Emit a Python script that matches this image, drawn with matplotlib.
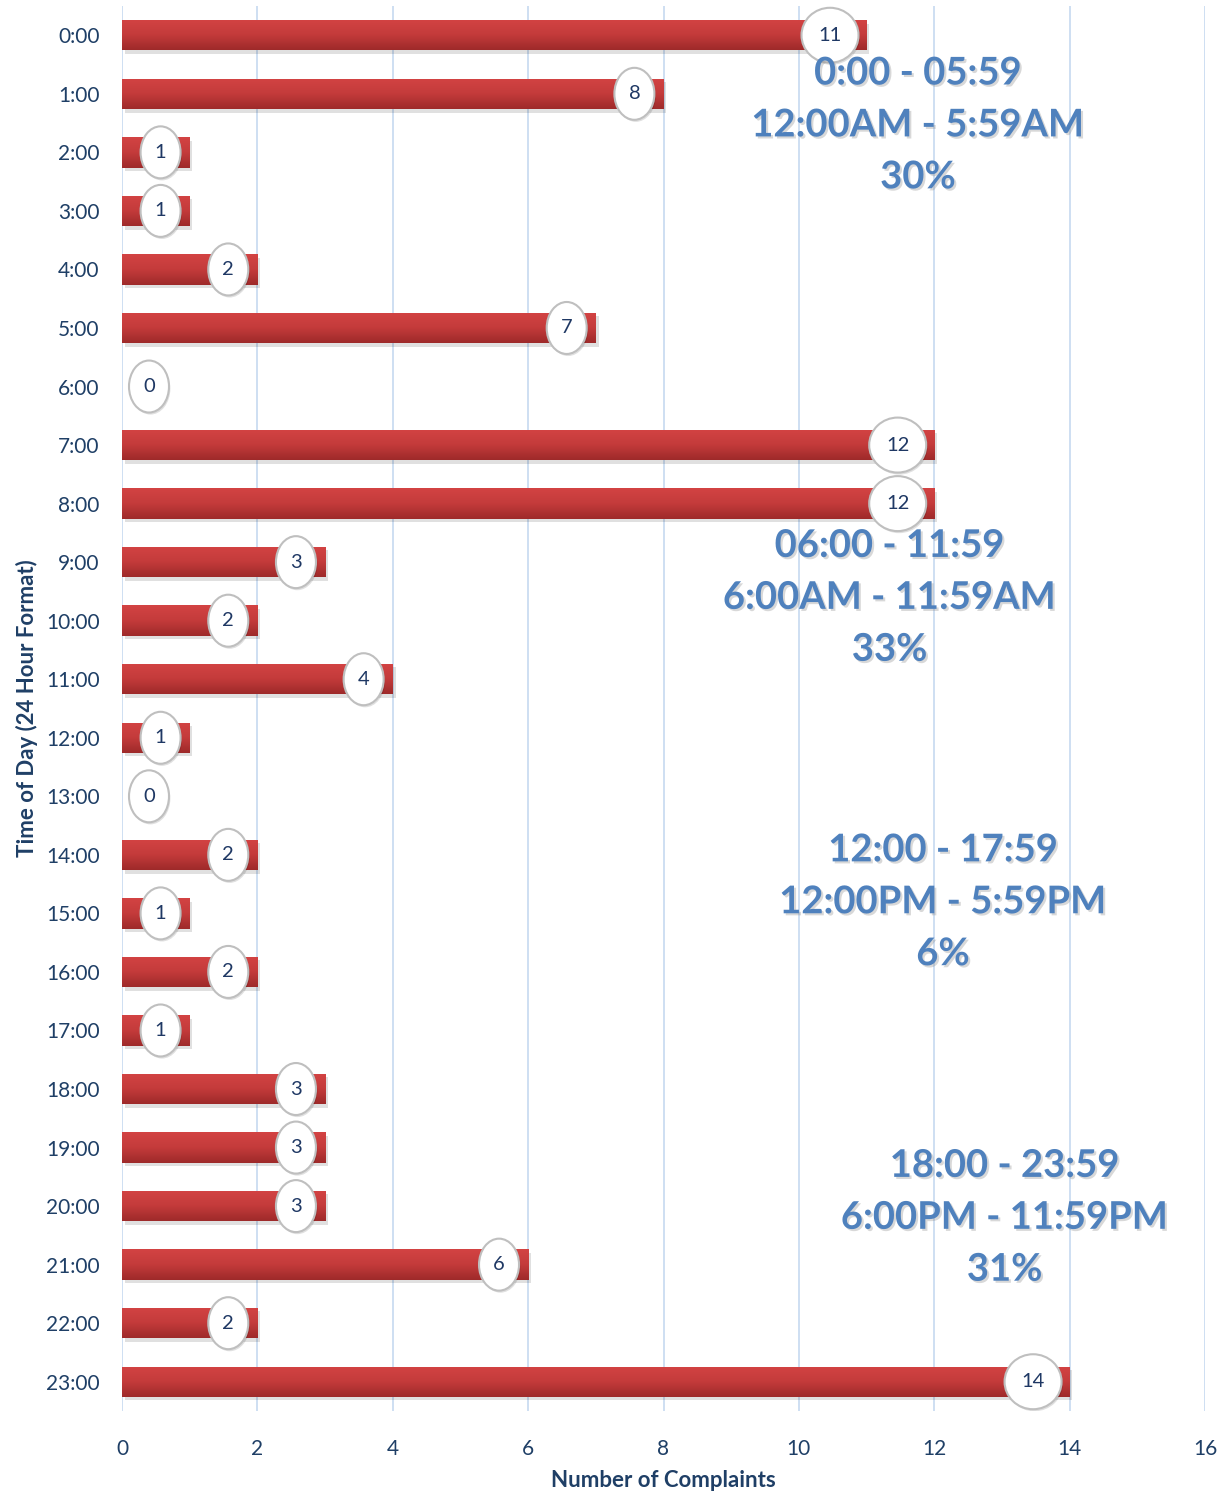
import numpy as np
import matplotlib
matplotlib.use("Agg")
import matplotlib.pyplot as plt
import matplotlib.patheffects as pe
from matplotlib.colors import LinearSegmentedColormap
from matplotlib.patches import Ellipse

# ------------------------------------------------------------------
# data
# ------------------------------------------------------------------
hours = [f"{h}:00" for h in range(24)]
complaints = [11, 8, 1, 1, 2, 7, 0, 12, 12, 3, 2, 4, 1, 0, 2, 1, 2, 1, 3, 3, 3, 6, 2, 14]

period_labels = [
    "0:00 - 05:59\n12:00AM - 5:59AM\n30%",
    "06:00 - 11:59\n6:00AM - 11:59AM\n33%",
    "12:00 - 17:59\n12:00PM - 5:59PM\n6%",
    "18:00 - 23:59\n6:00PM - 11:59PM\n31%",
]
# where each period note sits (data coords: x, row)
period_pos = [(11.76, 1.54), (11.34, 9.61), (12.13, 14.81), (13.04, 20.2)]

plt.rcParams['font.family'] = ['Lato', 'DejaVu Sans']

tick_color = "#1F3F66"
note_color = "#4F81BD"
grid_color = "#C6D9F0"

fig = plt.figure(figsize=(12.25, 14.95), dpi=100)
ax = fig.add_axes([122 / 1225, 1 - 1411 / 1495, (1205 - 122) / 1225, (1411 - 6) / 1495])

y = np.arange(len(hours))
bar_h = 0.52
bars = ax.barh(y, complaints, height=bar_h, color="#C0393A", zorder=2,
               path_effects=[pe.SimplePatchShadow(offset=(2, -2.5), shadow_rgbFace="k", alpha=0.12),
                             pe.Normal()])

# vertical red gradient inside each bar
cmap = LinearSegmentedColormap.from_list("bar", ["#D34343", "#C43B3B", "#9E2A2A"])
grad = np.linspace(0, 1, 64).reshape(-1, 1)
for rect, v, yy in zip(bars, complaints, y):
    if v <= 0:
        continue
    im = ax.imshow(grad, extent=[0, v, yy + bar_h / 2, yy - bar_h / 2], aspect="auto",
                   cmap=cmap, zorder=3, interpolation="bicubic")
    im.set_clip_path(rect)

# data labels in white ellipses
px_x = (1205 - 122) / 16.0
px_y = (1382 - 35) / 23.0
for v, yy in zip(complaints, y):
    digits = len(str(v))
    w_px = 40 if digits == 1 else 57
    h_px = 52 if digits == 1 else 55
    if v == 0:
        cx = 27 / px_x
    else:
        cx = v - (0.43 if digits == 1 else 0.54)
    ell = Ellipse((cx, yy), w_px / px_x, h_px / px_y, facecolor="white", edgecolor="#BFBFBF",
                  linewidth=1.5, zorder=5,
                  path_effects=[pe.SimplePatchShadow(offset=(1, -1.5), shadow_rgbFace="k", alpha=0.12),
                                pe.Normal()])
    ax.add_patch(ell)
    ax.text(cx, yy, str(v), ha="center", va="center", fontsize=14.5, color="#1F3864", zorder=6)

# period notes
for txt, (px, py) in zip(period_labels, period_pos):
    ax.text(px, py, txt, ha="center", va="center", multialignment="center",
            fontsize=27.5, fontweight="bold", color=note_color, linespacing=1.64, zorder=7,
            path_effects=[pe.withSimplePatchShadow(offset=(1.5, -1.5), shadow_rgbFace="gray", alpha=0.3)])

ax.set_xlim(0, 16)
ax.set_ylim(len(hours) - 0.5, -0.5)
ax.set_xticks(range(0, 17, 2))
ax.set_yticks(y)
ax.set_yticklabels(hours)
ax.tick_params(axis="both", length=0, labelsize=15, colors=tick_color)
ax.tick_params(axis="y", pad=16)
ax.tick_params(axis="x", pad=20)
ax.grid(axis="x", color=grid_color, linewidth=1.2, zorder=0)
ax.set_axisbelow(True)
for s in ax.spines.values():
    s.set_visible(False)

ax.set_xlabel("Number of Complaints", fontsize=16, fontweight="bold", color=tick_color, labelpad=8)
ax.set_ylabel("Time of Day (24 Hour Format)", fontsize=16, fontweight="bold", color=tick_color, labelpad=6)

fig.savefig("out.png", dpi=100)
